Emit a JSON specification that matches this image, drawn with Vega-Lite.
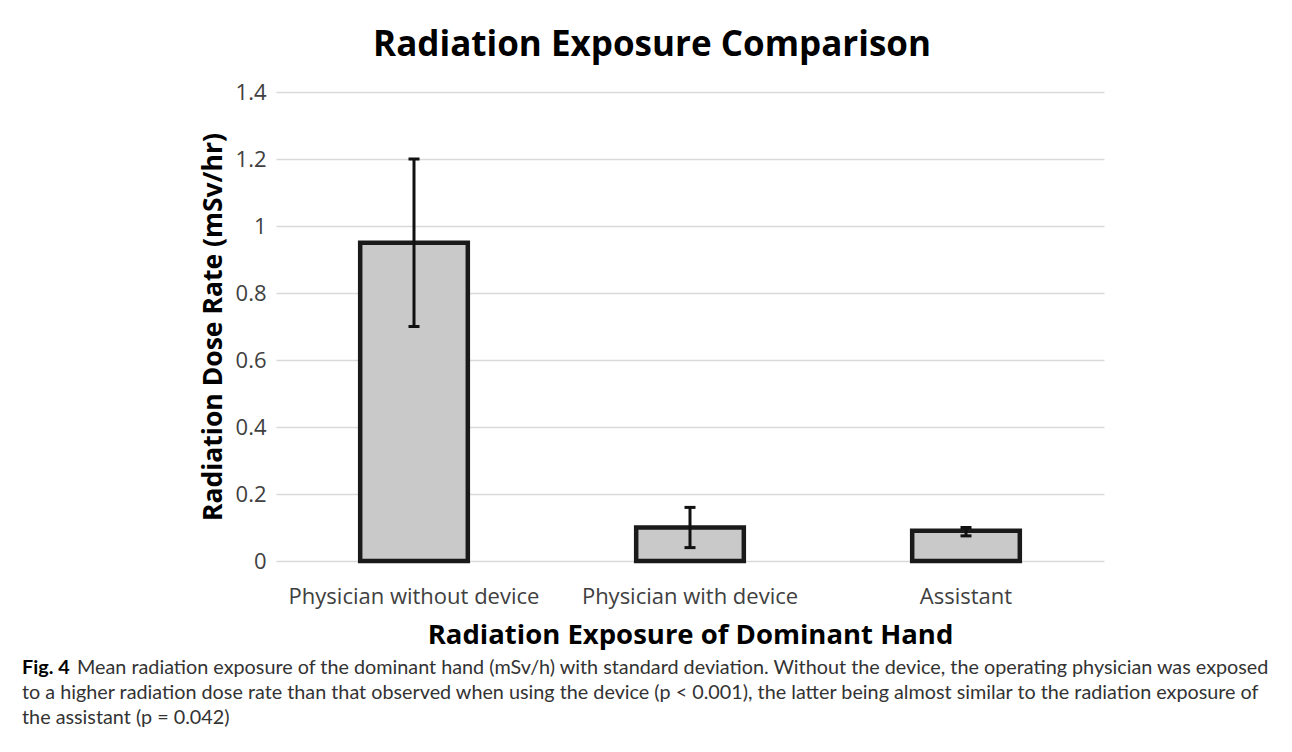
{
  "$schema": "https://vega.github.io/schema/vega-lite/v6.json",
  "background": "white",
  "padding": {"left": 22, "top": 28, "right": 22, "bottom": 5},
  "config": {"font": "Open Sans", "view": {"stroke": null}},
  "spacing": 6,
  "vconcat": [
    {
      "spacing": 0,
      "hconcat": [
        {
          "width": 178,
          "height": 10,
          "data": {"values": []},
          "mark": "point",
          "encoding": {}
        },
        {
          "width": 828,
          "height": 469,
          "title": {"text": "Radiation Exposure Comparison", "fontSize": 35, "fontWeight": "bold", "color": "#000000", "frame": "bounds", "offset": 18},
          "data": {"values": [
            {"group": "Physician without device", "mean": 0.95, "low": 0.70, "high": 1.20},
            {"group": "Physician with device", "mean": 0.10, "low": 0.04, "high": 0.16},
            {"group": "Assistant", "mean": 0.09, "low": 0.075, "high": 0.10}
          ]},
          "encoding": {
            "x": {
              "field": "group", "type": "nominal", "sort": null,
              "scale": {"paddingInner": 0.61, "paddingOuter": 0.305},
              "axis": {
                "title": "Radiation Exposure of Dominant Hand",
                "titleFontSize": 27.5, "titleFontWeight": "bold", "titleColor": "#000000", "titlePadding": 14,
                "labelAngle": 0, "labelFontSize": 22, "labelColor": "#404040", "labelPadding": 25, "labelLimit": 0,
                "domain": false, "ticks": false, "grid": false
              }
            }
          },
          "layer": [
            {
              "mark": {"type": "bar", "fill": "#c9c9c9", "stroke": "#1a1a1a", "strokeWidth": 4.5},
              "encoding": {
                "y": {
                  "field": "mean", "type": "quantitative",
                  "scale": {"domain": [0, 1.4]},
                  "axis": {
                    "title": "Radiation Dose Rate  (mSv/hr)",
                    "titleFontSize": 26.5, "titleFontWeight": "bold", "titleColor": "#000000", "titlePadding": 8,
                    "values": [0, 0.2, 0.4, 0.6, 0.8, 1, 1.2, 1.4], "format": "~g",
                    "labelFontSize": 22, "labelColor": "#404040", "labelPadding": 10,
                    "grid": true, "gridColor": "#d9d9d9", "gridWidth": 1.5,
                    "domain": false, "ticks": false
                  }
                }
              }
            },
            {
              "mark": {"type": "rule", "strokeWidth": 3, "color": "#111111"},
              "encoding": {"y": {"field": "low", "type": "quantitative"}, "y2": {"field": "high"}}
            },
            {
              "mark": {"type": "tick", "orient": "horizontal", "size": 11, "thickness": 3, "color": "#111111", "opacity": 1},
              "encoding": {"y": {"field": "low", "type": "quantitative"}}
            },
            {
              "mark": {"type": "tick", "orient": "horizontal", "size": 11, "thickness": 3, "color": "#111111", "opacity": 1},
              "encoding": {"y": {"field": "high", "type": "quantitative"}}
            }
          ]
        }
      ]
    },
    {
      "width": 1248,
      "height": 75,
      "data": {"values": [
        {"line": 1, "part": "bold", "text": "Fig. 4"},
        {"line": 1, "part": "first", "text": "Mean radiation exposure of the dominant hand (mSv/h) with standard deviation. Without the device, the operating physician was exposed"},
        {"line": 2, "part": "rest", "text": "to a higher radiation dose rate than that observed when using the device (p < 0.001), the latter being almost similar to the radiation exposure of"},
        {"line": 3, "part": "rest", "text": "the assistant (p = 0.042)"}
      ]},
      "encoding": {
        "x": {"datum": 0, "type": "quantitative", "scale": {"domain": [0, 1]}, "axis": null},
        "y": {"field": "line", "type": "ordinal", "scale": {"type": "point", "padding": 0.5}, "axis": null},
        "text": {"field": "text"}
      },
      "layer": [
        {
          "transform": [{"filter": "datum.part === 'bold'"}],
          "mark": {"type": "text", "align": "left", "baseline": "middle", "fontSize": 19.8, "fontWeight": "bold", "color": "#000000", "font": "Lato"}
        },
        {
          "transform": [{"filter": "datum.part === 'first'"}],
          "mark": {"type": "text", "align": "left", "baseline": "middle", "fontSize": 19.8, "color": "#333333", "font": "Lato", "dx": 55}
        },
        {
          "transform": [{"filter": "datum.part === 'rest'"}],
          "mark": {"type": "text", "align": "left", "baseline": "middle", "fontSize": 19.8, "color": "#333333", "font": "Lato"}
        }
      ]
    }
  ]
}
